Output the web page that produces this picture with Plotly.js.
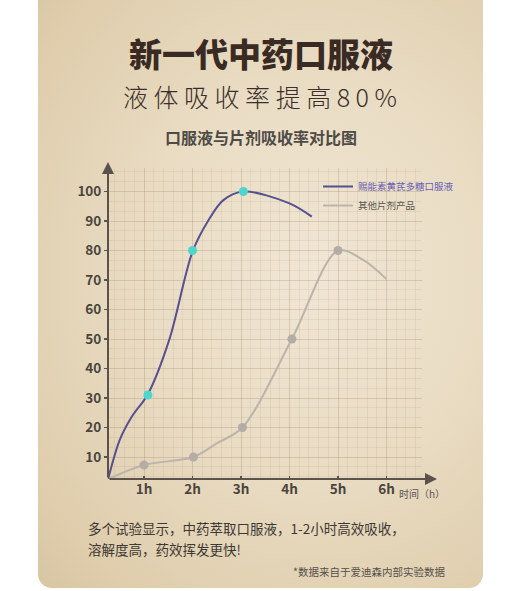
<!DOCTYPE html>
<html>
<head>
<meta charset="utf-8">
<script src="https://cdn.plot.ly/plotly-3.0.1.min.js"></script>
<style>
  body { margin: 0; background: #ffffff; width: 520px; height: 591px; overflow: hidden; position: relative; }
  #card {
    position: absolute; left: 38px; top: -14px; width: 445px; height: 602px;
    border-radius: 14px;
    background: radial-gradient(ellipse at 62% 48%, #f0e6d4 0%, #e9dcc3 45%, #dfcdac 85%, #d8c5a2 100%);
  }
  #chart { position: absolute; left: 0; top: 0; width: 520px; height: 591px; }
</style>
</head>
<body>
<div id="card"></div>
<div id="chart"></div>
<script>
// hours on the x axis
const hours = [1, 2, 3, 4, 5, 6];
const hourLabels = ['1h', '2h', '3h', '4h', '5h', '6h'];
const yTicks = [10, 20, 30, 40, 50, 60, 70, 80, 90, 100];

// oral liquid curve
const oralX = [0.26, 0.5, 0.75, 1.08, 1.52, 2.0, 2.32, 2.63, 3.05, 4.0, 4.46];
const oralY = [2.5, 15.8, 23.7, 31.3, 49.7, 79.6, 90, 97, 100, 96, 91.5];
const oralMarkX = [1.08, 2.0, 3.05];
const oralMarkY = [31, 80, 100];

// tablet curve
const tabletX = [0.26, 1.0, 2.02, 2.5, 3.03, 4.05, 5.0, 5.52, 6.0];
const tabletY = [2.5, 7.3, 10, 14.6, 20, 50, 80, 76.8, 70.3];
const tabletMarkX = [1.0, 2.02, 3.03, 4.05, 5.0];
const tabletMarkY = [7.3, 10, 20, 50, 80];

const oralName = '赐能素黄芪多糖口服液';
const tabletName = '其他片剂产品';

// plot area in page pixels
const L = 108, R = 422, T = 168, B = 479;
function px(x) { return (x - L) / (R - L); }
function py(y) { return (B - y) / (B - T); }

const FONT = '"Noto Sans CJK SC", "Noto Sans", sans-serif';
const GRID = 'rgba(150, 118, 84, 0.16)';
const MINOR = 'rgba(150, 118, 84, 0.10)';
const AXIS = '#5b534b';

function txt(text, x, y, size, color, weight, anchor) {
    return {
        text: text, xref: 'paper', yref: 'paper', x: px(x), y: py(y),
        xanchor: anchor || 'center', yanchor: 'middle', showarrow: false,
        font: { family: FONT, size: size, color: color, weight: weight || 400 }
    };
}

const tablet = {
    x: tabletX, y: tabletY, type: 'scatter', mode: 'lines',
    name: '<span style="color:#5a5550">' + tabletName + '</span>',
    line: { color: '#bcb4ab', width: 2, shape: 'spline', smoothing: 0.9 },
    legendrank: 2
};
const tabletMarks = {
    x: tabletMarkX, y: tabletMarkY, type: 'scatter', mode: 'markers',
    showlegend: false,
    marker: { color: '#b3ada6', size: 9 }
};
const oral = {
    x: oralX, y: oralY, type: 'scatter', mode: 'lines',
    name: '<span style="color:#6a5fb5">' + oralName + '</span>',
    line: { color: '#574f8f', width: 2, shape: 'spline', smoothing: 0.9 },
    legendrank: 1
};
const oralMarks = {
    x: oralMarkX, y: oralMarkY, type: 'scatter', mode: 'markers',
    showlegend: false,
    marker: { color: '#4fd6cc', size: 9 }
};

Plotly.newPlot('chart', [tablet, tabletMarks, oral, oralMarks], {
    width: 520, height: 591,
    paper_bgcolor: 'rgba(0,0,0,0)',
    plot_bgcolor: 'rgba(0,0,0,0)',
    margin: { l: L, r: 520 - R, t: T, b: 591 - B },
    font: { family: FONT },
    showlegend: true,
    legend: {
        x: px(318), y: py(172), xanchor: 'left', yanchor: 'top',
        bgcolor: 'rgba(0,0,0,0)', itemwidth: 30,
        font: { family: FONT, size: 9.5 },
        traceorder: 'normal'
    },
    xaxis: {
        range: [(L - 95.5) / 48.5, (R - 95.5) / 48.5],
        tickmode: 'array', tickvals: hours, ticktext: hourLabels,
        ticks: 'inside', ticklen: 3, tickcolor: AXIS, tickwidth: 1.5,
        tickfont: { family: FONT, size: 13.5, color: '#4a443e', weight: 700 },
        showline: false, zeroline: false,
        showgrid: true, gridcolor: GRID, gridwidth: 1,
        minor: { dtick: 0.2, showgrid: true, gridcolor: MINOR, gridwidth: 1 },
        fixedrange: true
    },
    yaxis: {
        range: [(486.5 - B) / 2.95, (486.5 - T) / 2.95],
        tickmode: 'array', tickvals: yTicks,
        ticks: 'outside', ticklen: 3, tickcolor: AXIS, tickwidth: 1.5,
        tickfont: { family: FONT, size: 13.5, color: '#4a443e', weight: 700 },
        showline: false, zeroline: false,
        showgrid: true, gridcolor: GRID, gridwidth: 1,
        minor: { tick0: 0, dtick: 10 / 3, showgrid: true, gridcolor: MINOR, gridwidth: 1 },
        fixedrange: true
    },
    annotations: [
        // axis arrows
        { xref: 'paper', yref: 'paper', x: px(437), y: py(B), ax: -(437 - L), ay: 0,
          text: '', showarrow: true, arrowhead: 2, arrowsize: 1.2, arrowwidth: 2, arrowcolor: AXIS },
        { xref: 'paper', yref: 'paper', x: px(L), y: py(162), ax: 0, ay: B - 162,
          text: '', showarrow: true, arrowhead: 2, arrowsize: 1.2, arrowwidth: 2, arrowcolor: AXIS },
        txt('时间（h）', 397, 493, 10, '#5a5550', 400, 'left'),
        // headings
        txt('新一代中药口服液', 261, 53, 33, '#3a2a24', 900),
        txt('液 体 吸 收 率 提 高 8 0 %', 260, 96, 25, '#3a2f2a', 300),
        txt('口服液与片剂吸收率对比图', 261, 137, 16, '#4e4a46', 700),
        // footer
        txt('多个试验显示，中药萃取口服液，1-2小时高效吸收，', 86, 528, 13.5, '#3d3833', 400, 'left'),
        txt('溶解度高，药效挥发更快!', 86, 549, 13.5, '#3d3833', 400, 'left'),
        txt('*数据来自于爱迪森内部实验数据', 447, 571, 10.5, '#55504b', 400, 'right')
    ]
}, { displayModeBar: false, staticPlot: true });
</script>
</body>
</html>
